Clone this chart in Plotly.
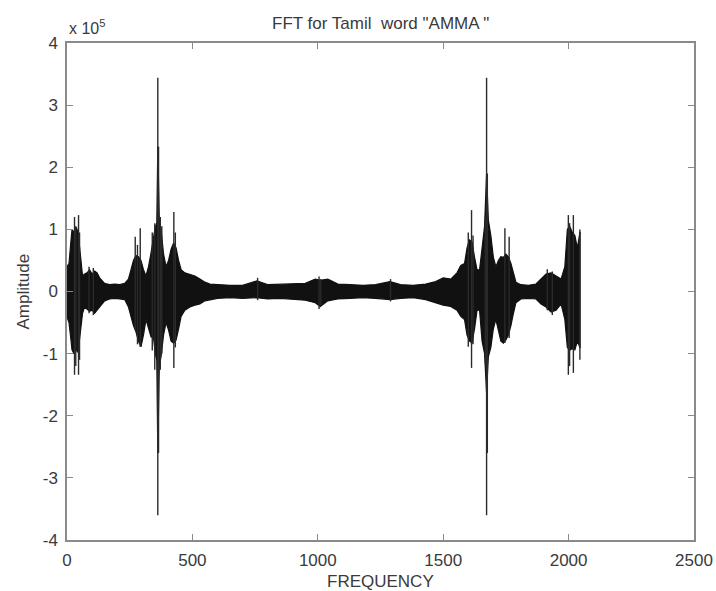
import plotly.graph_objects as go

# Envelope of the FFT signal (amplitude in units of 1e5)
env_freq = [0, 8, 15, 20, 28, 36, 44, 50, 56, 62, 70, 80, 90, 100, 110, 120, 130, 140, 150,
            170, 190, 210, 230, 245, 255, 265, 275, 285, 295, 305, 315, 325, 335, 345, 352,
            358, 362, 368, 375, 385, 395, 405, 415, 425, 435, 445, 455, 470, 490, 510, 530,
            550, 570, 600, 650, 700, 757, 800, 850, 900, 950, 990, 1010, 1040, 1080, 1130,
            1180, 1230, 1288, 1330, 1380, 1430, 1470, 1500, 1530, 1555, 1570, 1585, 1595,
            1605, 1615, 1625, 1635, 1645, 1655, 1665, 1673, 1680, 1690, 1700, 1710, 1720,
            1730, 1740, 1750, 1760, 1770, 1780, 1790, 1810, 1840, 1870, 1890, 1910, 1930,
            1950, 1970, 1985, 1995, 2005, 2015, 2025, 2035, 2045, 2048]
env_upper = [0.40, 0.45, 0.78, 1.00, 0.95, 1.04, 0.96, 0.70, 0.45, 0.25, 0.28, 0.30, 0.35, 0.28,
             0.33, 0.30, 0.22, 0.18, 0.13, 0.11, 0.12, 0.11, 0.13, 0.20, 0.35, 0.50, 0.58, 0.56,
             0.50, 0.35, 0.25, 0.40, 0.62, 0.85, 1.04, 1.10, 2.33, 1.15, 1.00, 0.60, 0.40, 0.50,
             0.68, 0.78, 0.70, 0.50, 0.35, 0.30, 0.28, 0.25, 0.20, 0.15, 0.12, 0.11, 0.10, 0.10,
             0.17, 0.11, 0.12, 0.13, 0.13, 0.20, 0.18, 0.20, 0.12, 0.11, 0.10, 0.11, 0.16, 0.11,
             0.10, 0.12, 0.16, 0.22, 0.20, 0.30, 0.42, 0.45, 0.70, 0.83, 0.80, 0.55, 0.35, 0.35,
             0.70, 1.05, 1.90, 1.15, 0.90, 0.55, 0.40, 0.50, 0.56, 0.55, 0.60, 0.56, 0.45, 0.30,
             0.15, 0.11, 0.10, 0.12, 0.20, 0.28, 0.30, 0.25, 0.20, 0.40, 1.00, 1.04, 0.95, 0.90,
             0.70, 0.95, 0.95]
env_lower = [-0.41, -0.50, -0.75, -0.94, -1.00, -0.94, -0.98, -0.80, -0.55, -0.35, -0.25, -0.28,
             -0.32, -0.30, -0.35, -0.30, -0.25, -0.20, -0.15, -0.12, -0.11, -0.12, -0.13, -0.25,
             -0.40, -0.55, -0.65, -0.80, -0.89, -0.70, -0.45, -0.60, -0.73, -0.75, -1.00, -1.10,
             -2.60, -1.20, -1.05, -0.70, -0.50, -0.62, -0.80, -0.83, -0.78, -0.60, -0.40, -0.30,
             -0.25, -0.22, -0.20, -0.15, -0.13, -0.11, -0.10, -0.11, -0.10, -0.12, -0.11, -0.12,
             -0.14, -0.18, -0.24, -0.15, -0.12, -0.11, -0.10, -0.11, -0.13, -0.11, -0.10, -0.13,
             -0.18, -0.22, -0.24, -0.30, -0.40, -0.45, -0.70, -0.80, -0.83, -0.60, -0.30, -0.30,
             -0.80, -1.00, -1.63, -1.05, -0.90, -0.60, -0.45, -0.65, -0.80, -0.83, -0.78, -0.70,
             -0.55, -0.35, -0.18, -0.12, -0.11, -0.12, -0.20, -0.25, -0.33, -0.30, -0.20, -0.45,
             -0.90, -0.94, -0.92, -0.94, -0.80, -0.90, -0.90]

# Individual spikes (frequency bin, max, min), amplitude in units of 1e5
spike_freq = [30, 35, 46, 50, 88, 105, 272, 281, 292, 340, 350, 362, 365, 372, 378, 426, 432,
              1600, 1613, 1619, 1668, 1673, 1676, 1746, 1763, 1999, 2004, 2019, 2045,
              760, 1005, 1012, 1290, 1915, 1935]
spike_max = [1.20, 1.05, 1.23, 0.95, 0.40, 0.38, 0.88, 0.75, 1.02, 0.95, 1.10, 3.44, 2.33, 1.20,
             1.05, 1.28, 0.95, 0.95, 1.31, 0.90, 1.20, 3.44, 1.90, 1.02, 0.88, 1.23, 1.10, 1.23,
             1.00, 0.22, 0.24, 0.20, 0.20, 0.36, 0.32]
spike_min = [-1.34, -1.20, -1.34, -1.10, -0.35, -0.38, -0.62, -0.85, -0.89, -0.95, -1.26, -3.60,
             -2.60, -1.26, -1.00, -1.23, -0.90, -0.89, -1.23, -0.85, -1.15, -3.60, -2.60, -0.83,
             -0.75, -1.34, -1.20, -1.31, -1.10, -0.14, -0.28, -0.22, -0.16, -0.30, -0.38]

x_ticks = [0, 500, 1000, 1500, 2000, 2500]
y_ticks = [-4, -3, -2, -1, 0, 1, 2, 3, 4]

FONT = "Liberation Sans, Arial, sans-serif"
TXT = "#3a3a3a"

fig = go.Figure()
fig.add_trace(go.Scatter(x=env_freq, y=env_lower, mode="lines",
                         line=dict(color="#111111", width=1.2), hoverinfo="skip"))
fig.add_trace(go.Scatter(x=env_freq, y=env_upper, mode="lines", fill="tonexty",
                         fillcolor="#111111", line=dict(color="#111111", width=1.2),
                         hoverinfo="skip"))

sx, sy = [], []
for f, hi, lo in zip(spike_freq, spike_max, spike_min):
    sx += [f, f, None]
    sy += [lo, hi, None]
fig.add_trace(go.Scatter(x=sx, y=sy, mode="lines",
                         line=dict(color="#2a2a2a", width=1.4), hoverinfo="skip"))

axis_common = dict(showline=True, linecolor="#8a8a8a", linewidth=1.5, mirror="ticks",
                   ticks="inside", ticklen=6, tickcolor="#8a8a8a", tickwidth=1.2,
                   showgrid=False, zeroline=False, automargin=False,
                   tickfont=dict(family=FONT, size=17, color=TXT))

fig.update_layout(
    width=716, height=591,
    margin=dict(l=67, r=22, t=43, b=51),
    paper_bgcolor="white", plot_bgcolor="white",
    showlegend=False,
    font=dict(family=FONT, color=TXT),
    xaxis=dict(range=[0, 2500], tickvals=x_ticks, ticktext=[str(v) for v in x_ticks],
               ticklabelstandoff=4, **axis_common),
    yaxis=dict(range=[-4, 4], tickvals=y_ticks, ticktext=[str(v) for v in y_ticks],
               ticklabelstandoff=4, **axis_common),
    annotations=[
        dict(text='FFT for Tamil&nbsp; word "AMMA "', xref="paper", yref="paper",
             x=0.5, y=1, yshift=20, xanchor="center", yanchor="middle", showarrow=False,
             font=dict(family=FONT, size=17, color=TXT)),
        dict(text="x 10<sup>5</sup>", xref="paper", yref="paper", x=0, y=1, yshift=4,
             xanchor="left", yanchor="bottom", showarrow=False,
             font=dict(family=FONT, size=16, color=TXT)),
        dict(text="FREQUENCY", xref="paper", yref="paper", x=0.5, y=0, yshift=-41,
             xanchor="center", yanchor="middle", showarrow=False,
             font=dict(family=FONT, size=17, color=TXT)),
        dict(text="Amplitude", xref="paper", yref="paper", x=0, y=0.5, xshift=-44,
             xanchor="center", yanchor="middle", textangle=-90, showarrow=False,
             font=dict(family=FONT, size=17, color=TXT)),
    ],
)

fig.write_html("out.html")
